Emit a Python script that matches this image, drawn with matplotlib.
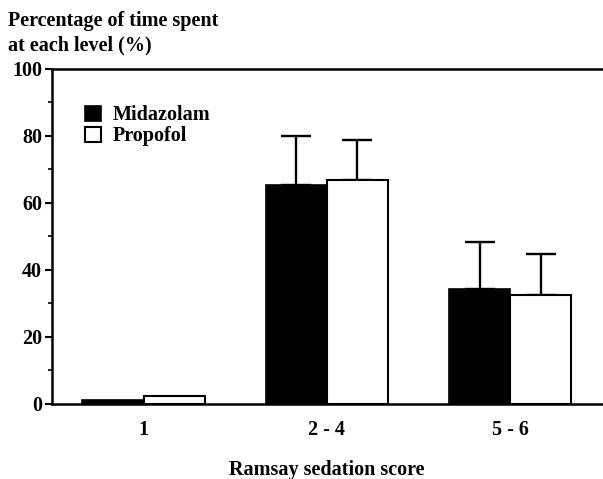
import numpy as np
import matplotlib
matplotlib.use("Agg")
import matplotlib.pyplot as plt

plt.rcParams['font.family'] = ['Liberation Serif', 'DejaVu Serif']
plt.rcParams['font.weight'] = 'bold'

scores = ['1', '2 - 4', '5 - 6']
midazolam = [1.2, 65.4, 34.3]
propofol = [2.3, 66.9, 32.5]
# upper error bars only (none shown for score 1)
midazolam_sd = [0, 14.6, 14.1]
propofol_sd = [0, 11.9, 12.3]

fig = plt.figure(figsize=(6.03, 4.79), dpi=100)
ax = fig.add_axes([0.086, 0.157, 0.912, 0.699])

x = np.arange(len(scores))
w = 0.333
ax.bar(x - w / 2, midazolam, w, color='black', edgecolor='black', linewidth=1.2,
       label='Midazolam', zorder=3)
ax.bar(x + w / 2, propofol, w, color='white', edgecolor='black', linewidth=1.5,
       label='Propofol', zorder=3)

for offs, vals, sd in [(-w / 2, midazolam, midazolam_sd), (w / 2, propofol, propofol_sd)]:
    sd = np.array(sd)
    keep = sd > 0
    ax.errorbar(x[keep] + offs, np.array(vals)[keep],
                yerr=[np.zeros(keep.sum()), sd[keep]], fmt='none', ecolor='black',
                elinewidth=1.7, capthick=1.7, capsize=10.5, zorder=2)

ax.set_xlim(-0.5, 2.5)
ax.set_ylim(0, 100)
ax.set_yticks([0, 20, 40, 60, 80, 100])
ax.set_yticks([10, 30, 50, 70, 90], minor=True)
ax.set_xticks(x)
ax.set_xticklabels(scores)
ax.tick_params(axis='x', length=0, pad=12, labelsize=14.5)
ax.tick_params(axis='y', which='major', length=5, width=1.5, labelsize=14.5, pad=2)
ax.tick_params(axis='y', which='minor', length=3, width=1.2)
for s in ['left', 'top', 'bottom']:
    ax.spines[s].set_linewidth(1.8)
ax.spines['right'].set_visible(False)

ax.set_xlabel('Ramsay sedation score', fontsize=14.5, fontweight='bold', labelpad=14)
fig.text(0.013, 0.977, 'Percentage of time spent\nat each level (%)', fontsize=14.5,
         fontweight='bold', va='top', ha='left', linespacing=1.3)

ax.legend(loc='upper left', bbox_to_anchor=(0.045, 0.915), frameon=False, fontsize=14.5,
          handlelength=0.8, handleheight=0.8, handletextpad=0.6, labelspacing=0.05,
          borderaxespad=0)

fig.savefig('out.png', dpi=100)
